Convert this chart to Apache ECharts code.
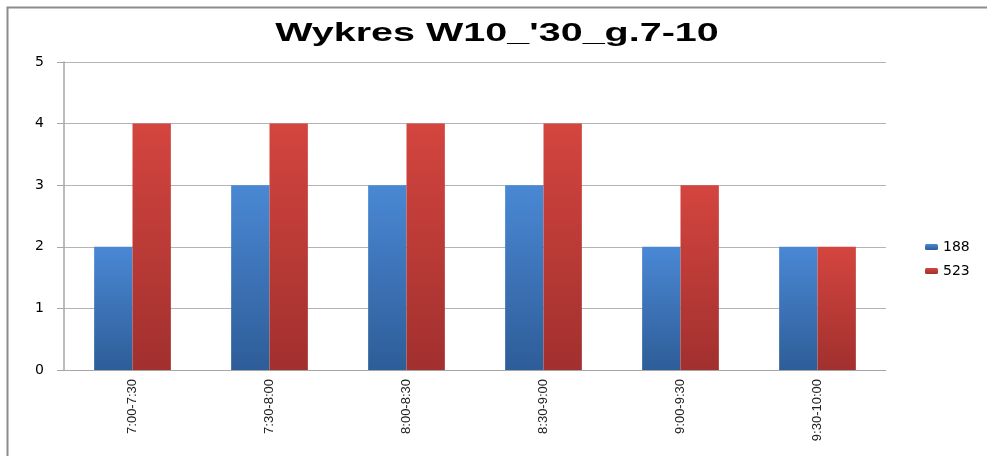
<!DOCTYPE html>
<html>
	<head>
		<meta charset="UTF-8">
		<title>Wykres W10_'30_g.7-10</title>
		<style>
			html, body { margin: 0; padding: 0; background: #fff; }
			#chart { width: 987px; height: 456px; }
		</style>
	</head>
	<body>
		<div id="chart"></div>
		<script type="text/javascript" src="https://cdn.jsdelivr.net/npm/echarts@6/dist/echarts.min.js"></script>
		<script>
			// dane wykresu
			var chartTitle = "Wykres W10_'30_g.7-10";
			var categories = ['7:00-7:30', '7:30-8:00', '8:00-8:30', '8:30-9:00', '9:00-9:30', '9:30-10:00'];
			var series188 = [2, 3, 3, 3, 2, 2];
			var series523 = [4, 4, 4, 4, 3, 2];
			var seriesNames = ['188', '523'];

			var chart = echarts.init(document.getElementById('chart'));

			function grad(top, bottom) {
				return new echarts.graphic.LinearGradient(0, 0, 0, 1, [
					{offset: 0, color: top},
					{offset: 1, color: bottom}
				]);
			}

			var option = {
				animation: false,
				graphic: [{
					// ramka wykresu
					type: 'rect',
					shape: {x: 7.5, y: 7.5, width: 990, height: 500},
					style: {fill: null, stroke: '#8c8c8c', lineWidth: 2}
				}, {
					// tytul (rozciagniety poziomo jak w oryginale)
					type: 'text',
					x: 497,
					y: 34,
					scaleX: 1.52,
					style: {
						text: chartTitle,
						font: 'bold 26px "Liberation Sans", Arial',
						fill: '#000',
						textAlign: 'center',
						textVerticalAlign: 'middle',
						align: 'center',
						verticalAlign: 'middle'
					}
				}],
				legend: {
					orient: 'vertical',
					left: 920,
					top: 235,
					itemWidth: 13,
					itemHeight: 6,
					itemGap: 10,
					data: seriesNames,
					textStyle: {
						fontFamily: 'DejaVu Sans',
						fontSize: 14,
						color: '#000'
					}
				},
				grid: {
					left: 64,
					right: 101,
					top: 62,
					bottom: 86
				},
				xAxis: {
					type: 'category',
					data: categories,
					axisLine: {lineStyle: {color: '#a6a6a6', width: 1}},
					axisTick: {show: false},
					axisLabel: {
						rotate: 90,
						interval: 0,
						margin: 9,
						fontFamily: 'Liberation Sans, Arial',
						fontSize: 13,
						color: '#222'
					}
				},
				yAxis: {
					type: 'value',
					min: 0,
					max: 5,
					interval: 1,
					axisLine: {show: true, lineStyle: {color: '#a6a6a6', width: 1.5}},
					axisTick: {show: true, length: 7, lineStyle: {color: '#a6a6a6'}},
					splitLine: {lineStyle: {color: '#b4b4b4'}},
					axisLabel: {
						margin: 20,
						fontFamily: 'DejaVu Sans',
						fontSize: 14,
						color: '#000'
					}
				},
				series: [{
					name: seriesNames[0],
					type: 'bar',
					data: series188,
					barGap: '0%',
					barCategoryGap: '44%',
					itemStyle: {color: grad('#4a88d4', '#2e5d98')}
				}, {
					name: seriesNames[1],
					type: 'bar',
					data: series523,
					itemStyle: {color: grad('#d4453f', '#a1302e')}
				}]
			};

			chart.setOption(option);
		</script>
	</body>
</html>
